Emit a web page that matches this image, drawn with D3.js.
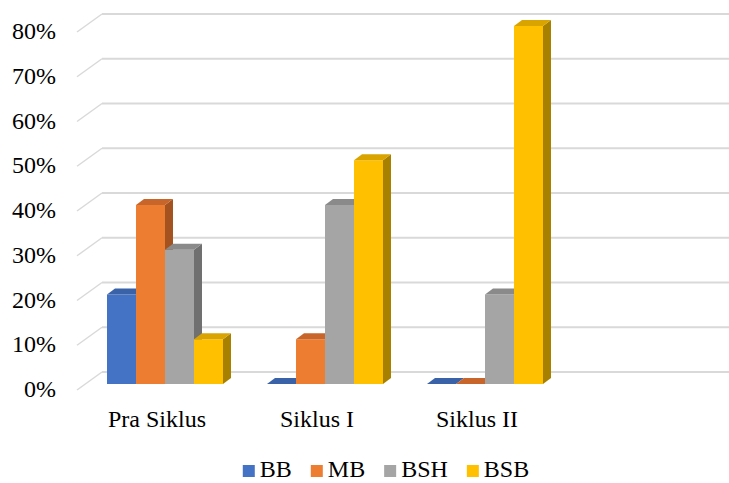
<!DOCTYPE html>
<html>
<head>
<meta charset="utf-8">
<script src="https://cdn.jsdelivr.net/npm/d3@7"></script>
</head>
<body style="margin:0">
<svg id="chart" width="729" height="483" style="display:block;font-family:'Liberation Serif',serif"></svg>
<script>
// ---- data ----
const categories = ["Pra Siklus", "Siklus I", "Siklus II", ""];
const seriesNames = ["BB", "MB", "BSH", "BSB"];
const BB  = [0.20, 0.00, 0.00, null];
const MB  = [0.40, 0.10, 0.00, null];
const BSH = [0.30, 0.40, 0.20, null];
const BSB = [0.10, 0.50, 0.80, null];
const yTicks = [0, 0.1, 0.2, 0.3, 0.4, 0.5, 0.6, 0.7, 0.8];
const seriesValues = [BB, MB, BSH, BSB];

const colors = {
  BB:  { front: "#4472C4", top: "#3A62A8", side: "#2E4F8A" },
  MB:  { front: "#ED7D31", top: "#C8652A", side: "#A45220" },
  BSH: { front: "#A5A5A5", top: "#8A8A8A", side: "#707070" },
  BSB: { front: "#FFC000", top: "#D9A300", side: "#A88000" }
};
const FONT = "Liberation Serif";

// ---- geometry ----
const svg = d3.select("#chart");
const W = 729;
const depthX = 25, depthY = 18;       // floor depth (front -> back)
const barFrontOff = 12, barDepthX = 8, barDepthY = 6;
const backLeft = 102;

const yBack = d3.scaleLinear().domain([0, 0.8]).range([372, 14]);
const x0 = d3.scaleBand().domain(categories).range([85, 725]).paddingInner(0.275).paddingOuter(0.1375);
const x1 = d3.scaleBand().domain(seriesNames).range([0, x0.bandwidth()]);

// gridlines
yTicks.forEach(t => {
  const yb = yBack(t);
  svg.append("line")
    .attr("x1", backLeft - depthX).attr("y1", yb + depthY)
    .attr("x2", backLeft).attr("y2", yb)
    .attr("stroke", "#D9D9D9").attr("stroke-width", 1.5);
  svg.append("line")
    .attr("x1", backLeft).attr("y1", yb)
    .attr("x2", W).attr("y2", yb)
    .attr("stroke", "#D9D9D9").attr("stroke-width", 2);
});

// y labels
const fmt = d3.format(".0%");
svg.selectAll("text.ylab").data(yTicks).join("text")
  .attr("class", "ylab")
  .attr("x", 56)
  .attr("y", d => yBack(d) + depthY + 7)
  .attr("text-anchor", "end")
  .attr("font-size", 24)
  .style("font-family", d => FONT)
  .text(d => fmt(d));

// category labels
svg.selectAll("text.xlab").data(categories).join("text")
  .attr("class", "xlab")
  .attr("x", d => x0(d) + x0.bandwidth() / 2 - 8)
  .attr("y", 427)
  .attr("text-anchor", "middle")
  .attr("font-size", 24)
  .style("font-family", d => FONT)
  .text(d => d);

// bars
categories.forEach((cat, ci) => {
  seriesNames.forEach((s, si) => {
    const v = seriesValues[si][ci];
    if (v === null || v === undefined) return;
    const x = x0(cat) + x1(s);
    const w = x1.bandwidth();
    const yt = yBack(v) + barFrontOff;
    const yb = yBack(0) + barFrontOff;
    const c = colors[s];
    if (yb - yt > 0.5) {
      svg.append("rect").attr("x", x).attr("y", yt).attr("width", w).attr("height", yb - yt).attr("fill", c.front);
      svg.append("path")
        .attr("d", `M${x + w},${yt} L${x + w + barDepthX},${yt - barDepthY} L${x + w + barDepthX},${yb - barDepthY} L${x + w},${yb} Z`)
        .attr("fill", c.side);
    }
    svg.append("path")
      .attr("d", `M${x},${yt} L${x + barDepthX},${yt - barDepthY} L${x + w + barDepthX},${yt - barDepthY} L${x + w},${yt} Z`)
      .attr("fill", c.top);
  });
});

// legend
const legend = svg.append("g");
let lx = 0;
seriesNames.forEach(s => {
  const gi = legend.append("g");
  gi.append("rect").attr("x", 0).attr("y", -12).attr("width", 12).attr("height", 12).attr("fill", colors[s].front);
  const t = gi.append("text").attr("x", 17).attr("y", 0)
    .attr("font-size", 24).style("font-family", FONT).text(s);
  const tw = t.node().getComputedTextLength();
  gi.attr("transform", `translate(${lx},477)`);
  lx += 17 + tw + 19;
});
const totalW = lx - 19;
legend.attr("transform", `translate(${386 - totalW / 2},0)`);
</script>
</body>
</html>
